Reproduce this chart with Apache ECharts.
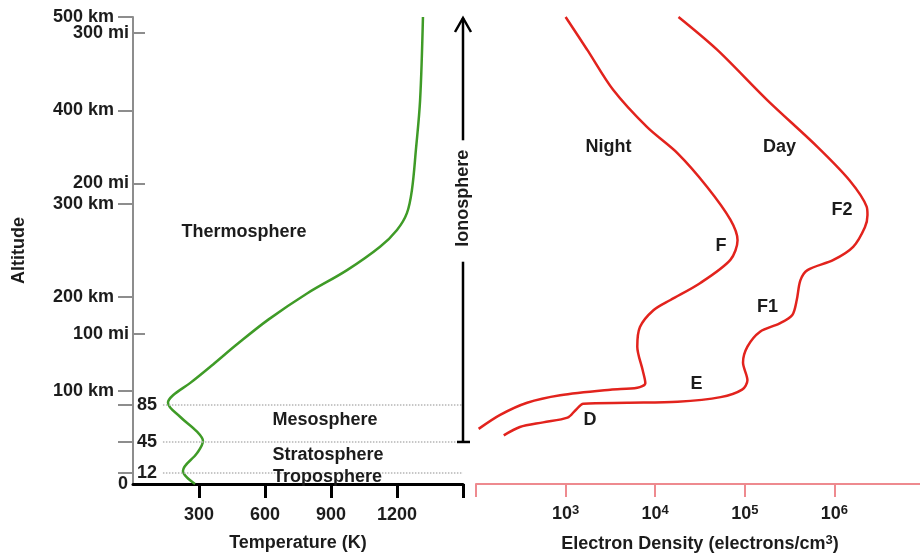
<!DOCTYPE html>
<html><head><meta charset="utf-8">
<script src="https://cdn.jsdelivr.net/npm/echarts@6/dist/echarts.min.js"></script>
<style>html,body{margin:0;padding:0;background:#fff}#main{width:920px;height:557px}</style>
</head><body><div id="main"></div>
<script>
// ---- data ----
const tempAltitudes = [0, 7, 14, 33, 46, 56, 72, 87, 95, 108, 128, 149, 176, 204, 229, 254, 272, 290, 315, 358, 411, 500];
const temperatures  = [282, 245, 227, 291, 318, 291, 214, 159, 182, 259, 364, 470, 615, 791, 973, 1123, 1200, 1245, 1268, 1286, 1305, 1318];

const nightAltitudes = [500, 465, 422, 382, 354, 318, 283, 261, 240, 215, 197, 186, 168, 147, 122, 108, 103, 101, 95, 87, 74, 59];
const nightDensity   = [1000, 1740, 3390, 8130, 17800, 38000, 69000, 83000, 69000, 31600, 14800, 9550, 6760, 6310, 7240, 7760, 6310, 3160, 870, 372, 186, 107];

const dayAltitudes = [500, 465, 411, 361, 325, 297, 288, 275, 254, 240, 229, 218, 197, 181, 172, 163, 147, 130, 111, 101, 93, 88, 87, 86, 79, 71, 66, 61, 52];
const dayDensity   = [18200, 49000, 178000, 646000, 1480000, 2290000, 2340000, 2190000, 1620000, 977000, 501000, 417000, 380000, 339000, 245000, 148000, 107000, 95500, 107000, 93300, 53700, 17800, 4900, 1580, 1290, 1050, 562, 309, 204];

const kmTicks = [100, 200, 300, 400, 500];
const miTicks = [100, 200, 300];
const layerTicks = [12, 45, 85];
const tempTicks = [300, 600, 900, 1200];
const tempTickMarks = [300, 600, 900, 1200, 1500];
const densityExponents = [3, 4, 5, 6];
const KM_PER_MI = 1.609344;

// ---- styles ----
const FONT = '"Liberation Sans", Arial, Helvetica, sans-serif';
const TXT = '#1c1c1c';
const GREEN = '#3f9b27', RED = '#e2231d', PINK = '#ee8a8f', GRAY = '#8d8d8d';
const base = {fontFamily: FONT, fontSize: 18, fontWeight: 'bold', color: TXT};
const zip = (xs, ys) => xs.map((x, i) => [x, ys[i]]);
const miKm = miTicks.map(m => m * KM_PER_MI);

const option = {
  animation: false,
  backgroundColor: '#fff',
  textStyle: {fontFamily: FONT},
  grid: [
    {left: 133, top: 17, width: 330, bottom: 73, outerBoundsMode: 'none', containLabel: false},
    {left: 476, top: 17, width: 448, bottom: 73, outerBoundsMode: 'none', containLabel: false}
  ],
  xAxis: [
    {gridIndex: 0, type: 'value', min: 0, max: 1500, interval: 300,
     axisLine: {lineStyle: {color: '#000', width: 3}},
     axisTick: {customValues: tempTickMarks, length: 14, lineStyle: {color: '#000', width: 3}},
     axisLabel: Object.assign({customValues: tempTicks, margin: 22, formatter: v => String(v)}, base),
     splitLine: {show: false},
     name: 'Temperature (K)', nameLocation: 'middle', nameGap: 50, nameTextStyle: Object.assign({}, base)},
    {gridIndex: 1, type: 'log', logBase: 10, min: 100, max: 1e7,
     axisLine: {lineStyle: {color: PINK, width: 2}},
     axisTick: {length: 13, lineStyle: {color: PINK, width: 2}},
     minorTick: {show: false}, splitLine: {show: false},
     axisLabel: {margin: 20,
       formatter: v => { const e = Math.round(Math.log10(v)); return densityExponents.indexOf(e) >= 0 ? '{b|10}{s|' + e + '}' : ''; },
       rich: {b: Object.assign({lineHeight: 20}, base), s: {fontFamily: FONT, fontSize: 13, fontWeight: 'bold', color: TXT, verticalAlign: 'top'}}},
     name: '{a|Electron Density (electrons/cm}{s|3}{a|)}', nameLocation: 'middle', nameGap: 50,
     nameTextStyle: {rich: {a: Object.assign({lineHeight: 20}, base), s: {fontFamily: FONT, fontSize: 13, fontWeight: 'bold', color: TXT, verticalAlign: 'top'}}}}
  ],
  yAxis: [
    {gridIndex: 0, type: 'value', min: 0, max: 500, position: 'left',
     axisLine: {show: true, lineStyle: {color: GRAY, width: 2}},
     axisTick: {show: true, customValues: kmTicks, length: 15, lineStyle: {color: GRAY, width: 2}},
     axisLabel: Object.assign({customValues: kmTicks, margin: 19, formatter: v => v + ' km'}, base),
     splitLine: {show: false},
     name: 'Altitude', nameLocation: 'middle', nameGap: 105, nameRotate: 90, nameTextStyle: Object.assign({}, base)},
    {gridIndex: 0, type: 'value', min: 0, max: 500, position: 'left', offset: 0,
     axisLine: {show: false},
     axisTick: {show: true, inside: true, customValues: miKm, length: 12, lineStyle: {color: GRAY, width: 2}},
     axisLabel: Object.assign({customValues: miKm, margin: 4, formatter: v => Math.round(v / KM_PER_MI) + ' mi'}, base),
     splitLine: {show: false}},
    {gridIndex: 0, type: 'value', min: 0, max: 500, position: 'left', offset: 0,
     axisLine: {show: false},
     axisTick: {show: true, customValues: layerTicks, length: 15, lineStyle: {color: GRAY, width: 2}},
     axisLabel: Object.assign({customValues: layerTicks, inside: true, margin: 4, formatter: v => String(v)}, base),
     splitLine: {show: false}},
    {gridIndex: 0, type: 'value', min: 0, max: 500, position: 'left', offset: 0,
     axisLine: {show: false}, axisTick: {show: false},
     axisLabel: Object.assign({customValues: [0], margin: 5, formatter: v => String(v)}, base),
     splitLine: {show: false}},
    {gridIndex: 1, type: 'value', min: 0, max: 500, show: false}
  ],
  series: [
    {type: 'line', xAxisIndex: 0, yAxisIndex: 0, data: zip(temperatures, tempAltitudes),
     smooth: 0.35, symbol: 'none', lineStyle: {color: GREEN, width: 2.5}, z: 3,
     markLine: {silent: true, symbol: 'none', label: {show: false},
       lineStyle: {type: 'dotted', color: '#b5b5b5', width: 1.5},
       data: layerTicks.map(a => [{coord: [136, a]}, {coord: [1500, a]}])}},
    {type: 'line', xAxisIndex: 1, yAxisIndex: 4, data: zip(nightDensity, nightAltitudes),
     smooth: 0.3, symbol: 'none', lineStyle: {color: RED, width: 2.5}},
    {type: 'line', xAxisIndex: 1, yAxisIndex: 4, data: zip(dayDensity, dayAltitudes),
     smooth: 0.3, symbol: 'none', lineStyle: {color: RED, width: 2.5}}
  ]
};

const chart = echarts.init(document.getElementById('main'));
chart.setOption(option);

const pT = (t, a) => chart.convertToPixel({seriesIndex: 0}, [t, a]);
const pD = (d, a) => chart.convertToPixel({seriesIndex: 1}, [d, a]);
const fontStr = 'bold 18px ' + FONT;
const labels = [
  ['Thermosphere', pT(505, 270)], ['Mesosphere', pT(873, 68.5)], ['Stratosphere', pT(886, 30.5)], ['Troposphere', pT(884, 7.5)],
  ['Night', pD(3013, 361)], ['Day', pD(243800, 361)], ['F2', pD(1216000, 293)], ['F', pD(54200, 255)],
  ['F1', pD(179000, 189)], ['E', pD(28900, 106.5)], ['D', pD(1871, 68.5)]
];
const g = labels.map(([t, p]) => ({type: 'text', x: p[0], y: p[1], z: 100,
  style: {text: t, font: fontStr, fill: TXT, align: 'center', verticalAlign: 'middle'}}));

const b = pT(1500, 45), l1 = pT(1500, 238), u1 = pT(1500, 368), tip = pT(1500, 500), mid = pT(1500, 306);
const stroke = {stroke: '#000', lineWidth: 2.5, fill: null};
g.push({type: 'line', z: 100, shape: {x1: b[0], y1: b[1], x2: l1[0], y2: l1[1]}, style: stroke});
g.push({type: 'line', z: 100, shape: {x1: b[0] - 6, y1: b[1], x2: b[0] + 7, y2: b[1]}, style: stroke});
g.push({type: 'line', z: 100, shape: {x1: u1[0], y1: u1[1], x2: tip[0], y2: tip[1] + 1}, style: stroke});
g.push({type: 'polyline', z: 100, shape: {points: [[tip[0] - 8, tip[1] + 15], [tip[0], tip[1] + 1], [tip[0] + 8, tip[1] + 15]]}, style: stroke});
g.push({type: 'text', x: mid[0], y: mid[1], rotation: Math.PI / 2, z: 100,
  style: {text: 'Ionosphere', font: fontStr, fill: TXT, align: 'center', verticalAlign: 'middle'}});
chart.setOption({graphic: g});
</script>
</body></html>
